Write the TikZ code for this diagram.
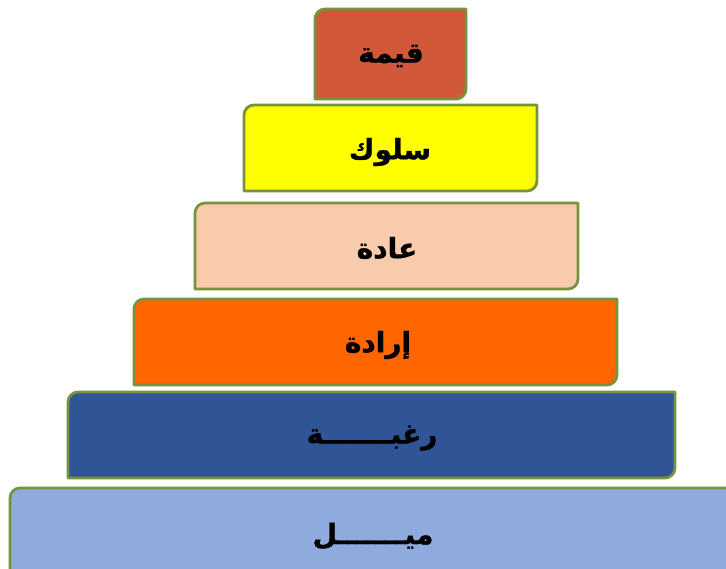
\documentclass[tikz,border=0pt]{standalone}
\usepackage{fontspec}
\newfontfamily\arabicfont[Script=Arabic, BoldFeatures={FakeBold=1.2}]{DejaVu Sans}
\TeXXeTstate=1
\definecolor{tierline}{RGB}{119,147,60}
\definecolor{valuefill}{RGB}{209,88,56}
\definecolor{behaviourfill}{RGB}{255,255,0}
\definecolor{habitfill}{RGB}{248,203,173}
\definecolor{willfill}{RGB}{255,102,0}
\definecolor{desirefill}{RGB}{47,85,151}
\definecolor{tendencyfill}{RGB}{143,170,220}
\tikzset{
  tier/.style={draw=tierline, line width=2.8pt, line join=round},
  tiertext/.style={font=\arabicfont\bfseries\fontsize{28}{32}\selectfont, text=black, inner sep=0pt}
}
\begin{document}
\begin{tikzpicture}[x=1pt, y=1pt]
    % page is 726 x 568, one unit is one pixel
    \useasboundingbox (0,0) rectangle (726,568);
    \clip (0,0) rectangle (726,568);

    % Top tier: value
    \draw[tier, fill=valuefill] (315,469) -- (456,469) arc[start angle=270, end angle=360, radius=10]
        -- (466,559) -- (325,559) arc[start angle=90, end angle=180, radius=10] -- cycle;
    \node[tiertext] (value) at (391,512) {\beginR قيمة\endR};

    % Second tier: behaviour
    \draw[tier, fill=behaviourfill] (244,377) -- (527,377) arc[start angle=270, end angle=360, radius=10]
        -- (537,463) -- (254,463) arc[start angle=90, end angle=180, radius=10] -- cycle;
    \node[tiertext] (behaviour) at (390,416) {\beginR سلوك\endR};

    % Third tier: habit
    \draw[tier, fill=habitfill] (195,279) -- (568,279) arc[start angle=270, end angle=360, radius=10]
        -- (578,365) -- (205,365) arc[start angle=90, end angle=180, radius=10] -- cycle;
    \node[tiertext] (habit) at (387,320) {\beginR عادة\endR};

    % Fourth tier: will
    \draw[tier, fill=willfill] (134,183) -- (607,183) arc[start angle=270, end angle=360, radius=10]
        -- (617,269) -- (144,269) arc[start angle=90, end angle=180, radius=10] -- cycle;
    \node[tiertext] (will) at (378,223) {\beginR إرادة\endR};

    % Fifth tier: desire
    \draw[tier, fill=desirefill] (68,90) -- (665,90) arc[start angle=270, end angle=360, radius=10]
        -- (675,176) -- (78,176) arc[start angle=90, end angle=180, radius=10] -- cycle;
    \node[tiertext] (desire) at (372,130) {\beginR رغبـــــــة\endR};

    % Base tier: tendency (runs off the page)
    \draw[tier, fill=tendencyfill] (10,-20) -- (740,-20) -- (740,80) -- (20,80)
        arc[start angle=90, end angle=180, radius=10] -- cycle;
    \node[tiertext] (tendency) at (373,32) {\beginR ميـــــــل\endR};
\end{tikzpicture}
\end{document}
